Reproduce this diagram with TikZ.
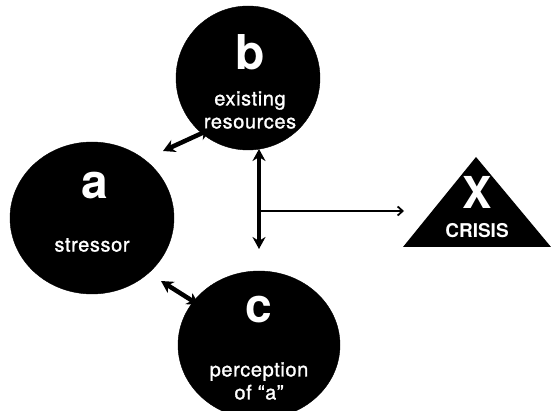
\documentclass[tikz,border=0pt]{standalone}
\usepackage{fontspec}
\setmainfont{TeX Gyre Heros}
\usetikzlibrary{arrows.meta}
\tikzset{
  blob/.style={fill=black, draw=black},
  bigletter/.style={text=white, font=\fontsize{48}{48}\selectfont\bfseries},
  caption/.style={text=white, align=center, font=\fontsize{20}{23}\selectfont\addfontfeatures{LetterSpace=3,FakeBold=1.2}},
  link/.style={line width=4.5pt, {Stealth[length=12pt,width=13pt]}-{Stealth[length=12pt,width=13pt]}},
  feed/.style={line width=1.8pt},
}
\begin{document}
\begin{tikzpicture}[x=1pt,y=-1pt]
\useasboundingbox (0,0) rectangle (551,411);
% the three factors
\fill[blob] (248,78) ellipse [x radius=72, y radius=72];
\fill[blob] (92,218) ellipse [x radius=82, y radius=76];
\fill[blob] (259,345) ellipse [x radius=81, y radius=74];
\node[bigletter] (la) at (95,186) {a};
\node[caption] (ta) at (92,245) {stressor};
\node[bigletter] (lb) at (250,52) {b};
\node[caption] (tb) at (250,110) {existing\\resources};
\node[bigletter] (lc) at (259,310) {c};
\node[caption] (tc) at (259,381) {perception\\of “a”};
% the crisis
\fill[black] (403,247) -- (476,157) -- (551,247) -- cycle;
\node[bigletter, font=\fontsize{44}{44}\selectfont\bfseries] (lx) at (477,192) {X};
\node[text=white, font=\fontsize{19}{19}\selectfont\bfseries] (tx) at (477,231) {CRISIS};
% connectors
\coordinate (ab1) at (163,151);
\coordinate (ab2) at (211,129);
\coordinate (ac1) at (161,281);
\coordinate (ac2) at (199,305);
\coordinate (vtop) at (259,149);
\coordinate (vbot) at (259,249);
\coordinate (junc) at (259,211);
\coordinate (xend) at (404,211);
\draw[link] (ab1) -- (ab2);
\draw[link] (ac1) -- (ac2);
\draw[link] (vtop) -- (vbot);
\draw[feed, -{Straight Barb[length=5pt,width=9pt]}] (junc) -- (xend);
\end{tikzpicture}
\end{document}
